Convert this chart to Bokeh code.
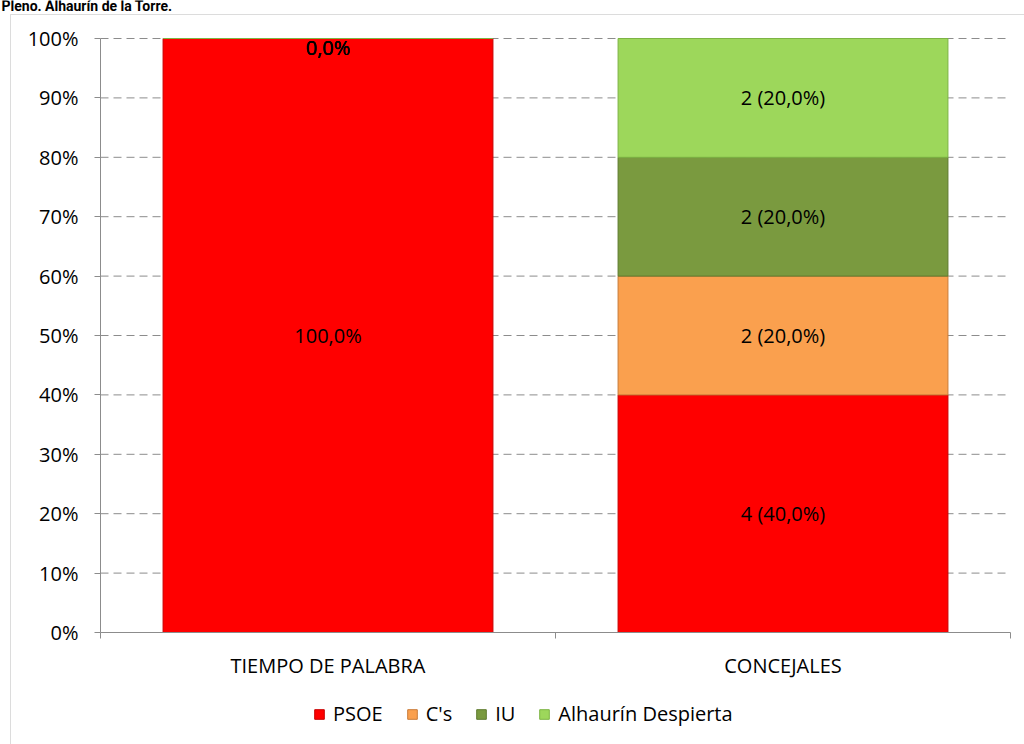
from bokeh.plotting import figure
from bokeh.models import (ColumnDataSource, FixedTicker, Legend, LegendItem, Range1d,
                          BoxAnnotation, Label)
from bokeh.core.properties import value
from bokeh.embed import file_html
from bokeh.resources import INLINE

# ---------------- data ----------------
title_text = "Pleno. Alhaurín de la Torre."
categories = ["TIEMPO DE PALABRA", "CONCEJALES"]
parties = ["PSOE", "C's", "IU", "Alhaurín Despierta"]
pct_psoe = [100.0, 40.0]
pct_cs = [0.0, 20.0]
pct_iu = [0.0, 20.0]
pct_ad = [0.0, 20.0]
seats_concejales = [4, 2, 2, 2]          # PSOE, C's, IU, Alhaurín Despierta
y_ticks = [0, 10, 20, 30, 40, 50, 60, 70, 80, 90, 100]

colors = ["#FF0000", "#FAA04E", "#7A9A3F", "#9DD75B"]
edge_colors = ["#C80000", "#C97B38", "#5E7A2E", "#7DB444"]

FONT = "Open Sans"
FS = "20px"
GRAY = "#8C8C8C"

# ---------------- layout (pixels) ----------------
W, H = 1024, 744
PLOT_LEFT, PLOT_RIGHT, PLOT_TOP, PLOT_BOTTOM = 100, 1010, 38, 632
n_cat = len(categories)
px_x = (PLOT_RIGHT - PLOT_LEFT) / n_cat
px_y = (PLOT_BOTTOM - PLOT_TOP) / 100.0
x_range = Range1d(-PLOT_LEFT / px_x, n_cat + (W - PLOT_RIGHT) / px_x)
y_range = Range1d(-(H - PLOT_BOTTOM) / px_y, 100 + PLOT_TOP / px_y)

# ---------------- figure ----------------
p = figure(width=W, height=H, x_range=x_range, y_range=y_range, title=None,
           output_backend="svg", toolbar_location=None,
           min_border_left=0, min_border_right=0, min_border_top=0, min_border_bottom=0)
p.background_fill_color = "white"
p.border_fill_color = "white"
p.outline_line_color = None

# dashed horizontal gridlines across the plot area only (behind the bars)
grid_ticks = y_ticks[1:]
p.segment(x0=[0] * len(grid_ticks), x1=[n_cat] * len(grid_ticks), y0=grid_ticks, y1=grid_ticks,
          line_color=GRAY, line_width=1, line_dash="8 5", level="underlay")

keys = ["psoe", "cs", "iu", "ad"]
series = [pct_psoe, pct_cs, pct_iu, pct_ad]
xs = [i + 0.5 for i in range(n_cat)]
data = {"x": xs}
for k, s in zip(keys, series):
    data[k] = s
source = ColumnDataSource(data)

renderers = p.vbar_stack(keys, x="x", width=0.725, source=source,
                         fill_color=colors, line_color=edge_colors, line_width=1)

# ---------------- labels ----------------
def fmt(v):
    return (f"{v:.1f}").replace(".", ",") + "%"

mid_x, mid_y, mid_t = [], [], []
top_x, top_y, top_t = [], [], []
for i, cat in enumerate(categories):
    bottom = 0.0
    for j, s in enumerate(series):
        v = s[i]
        if cat == "CONCEJALES":
            txt = f"{seats_concejales[j]} ({fmt(v)})"
        else:
            txt = fmt(v)
        if v > 0:
            mid_x.append(xs[i]); mid_y.append(bottom + v / 2); mid_t.append(txt)
        else:
            top_x.append(xs[i]); top_y.append(bottom); top_t.append(txt)
        bottom += v

p.text(x=mid_x, y=mid_y, text=mid_t, text_align="center", text_baseline="middle",
       text_font=value(FONT), text_font_size=FS, text_color="black")
p.text(x=top_x, y=top_y, text=top_t, text_align="center", text_baseline="middle", y_offset=9,
       text_font=value(FONT), text_font_size=FS, text_color="black")

# ---------------- axes ----------------
p.yaxis.fixed_location = 0
p.yaxis.ticker = FixedTicker(ticks=y_ticks)
p.yaxis.bounds = (0, 100)
p.yaxis.major_label_overrides = {t: f"{t}%" for t in y_ticks}
p.yaxis.axis_line_color = GRAY
p.yaxis.major_tick_line_color = GRAY
p.yaxis.major_tick_out = 6
p.yaxis.major_tick_in = 0
p.yaxis.minor_tick_line_color = None
p.yaxis.major_label_standoff = 16
p.yaxis.major_label_text_font = FONT
p.yaxis.major_label_text_font_size = FS
p.yaxis.major_label_text_color = "black"

p.xaxis.fixed_location = 0
p.xaxis.ticker = FixedTicker(ticks=xs, minor_ticks=list(range(n_cat + 1)))
p.xaxis.bounds = (0, n_cat)
p.xaxis.major_label_overrides = {x: c for x, c in zip(xs, categories)}
p.xaxis.axis_line_color = GRAY
p.xaxis.major_tick_line_color = None
p.xaxis.major_tick_out = 0
p.xaxis.major_tick_in = 0
p.xaxis.minor_tick_line_color = GRAY
p.xaxis.minor_tick_out = 6
p.xaxis.minor_tick_in = 0
p.xaxis.major_label_standoff = 13
p.xaxis.major_label_text_font = FONT
p.xaxis.major_label_text_font_size = FS
p.xaxis.major_label_text_color = "black"

p.xgrid.visible = False
p.ygrid.visible = False

# ---------------- legend ----------------
legend = Legend(items=[LegendItem(label=n, renderers=[r]) for n, r in zip(parties, renderers)],
                orientation="horizontal", location=(313, 17),
                glyph_width=12, glyph_height=12, label_standoff=8, spacing=23,
                padding=0, margin=0, border_line_color=None, background_fill_alpha=0,
                label_text_font=FONT, label_text_font_size=FS, label_text_color="black")
p.add_layout(legend)

# ---------------- chart-area frame and title ----------------
box = BoxAnnotation(left=10, right=W + 50, top=H - 14, bottom=-50,
                    left_units="screen", right_units="screen", top_units="screen", bottom_units="screen",
                    fill_alpha=0, line_color=GRAY, line_width=1)
p.add_layout(box)

title = Label(x=1, y=H - 5, x_units="screen", y_units="screen", text=title_text,
              text_font="Roboto", text_font_style="bold", text_font_size="14px",
              text_baseline="alphabetic", text_color="black")
p.add_layout(title)

open("out.html", "w").write(file_html(p, INLINE))
